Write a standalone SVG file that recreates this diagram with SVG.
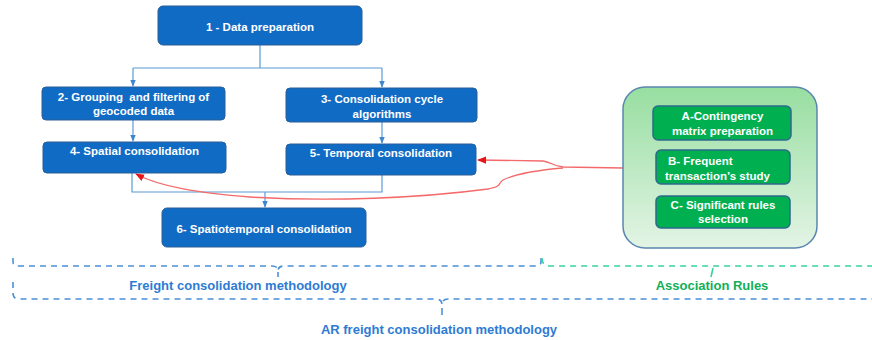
<svg xmlns="http://www.w3.org/2000/svg" width="872" height="340" viewBox="0 0 872 340">
<defs>
<linearGradient id="gbg" x1="0" y1="0" x2="0" y2="1">
<stop offset="0" stop-color="#97dea0"/>
<stop offset="1" stop-color="#e3f4e5"/>
</linearGradient>
<marker id="ab" viewBox="0 0 10 10" refX="9" refY="5" markerWidth="6" markerHeight="6" orient="auto">
<path d="M0,1 L10,5 L0,9 z" fill="#3f86cf"/>
</marker>
<marker id="ar" viewBox="0 0 10 10" refX="9" refY="5" markerWidth="7" markerHeight="7" orient="auto">
<path d="M0,1 L10,5 L0,9 z" fill="#e8141a"/>
</marker>
</defs>
<style>
.bx{fill:#106bc5;stroke:#2a5f98;stroke-width:1}
.gx{fill:#00b050;stroke:#2d6a8c;stroke-width:1.5}
.t{font-family:"Liberation Sans",Arial,sans-serif;font-weight:bold;font-size:11.5px;fill:#ffffff;text-anchor:middle}
.c{fill:none;stroke:#5b9bd5;stroke-width:1.2}
.r{fill:none;stroke:#f46a6a;stroke-width:1.3}
.db{fill:none;stroke:#4a90d9;stroke-width:1.6;stroke-dasharray:6 5}
.dg{fill:none;stroke:#34d39e;stroke-width:1.6;stroke-dasharray:6 5}
.lb{font-family:"Liberation Sans",Arial,sans-serif;font-weight:bold;font-size:13px;fill:#2e7bd3;text-anchor:middle}
.lg{font-family:"Liberation Sans",Arial,sans-serif;font-weight:bold;font-size:13px;fill:#10b057;text-anchor:middle}
</style>

<g id="connectors">
<path class="c" d="M260,45 V68 M133,68 H382"/>
<path class="c" d="M133,68 V86" marker-end="url(#ab)"/>
<path class="c" d="M382,68 V87" marker-end="url(#ab)"/>
<path class="c" d="M133,120 V141" marker-end="url(#ab)"/>
<path class="c" d="M382,122 V143" marker-end="url(#ab)"/>
<path class="c" d="M132,173 V192 H382 V175"/>
<path class="c" d="M265,192 V207" marker-end="url(#ab)"/>
<path class="c" stroke="#7aa6c2" d="M723,140 V150 M723,184 V196"/>
<path class="r" d="M623,168 L563,167 C553,166 551,162 543,161 L478,160" marker-end="url(#ar)"/>
<path class="r" d="M563,168 C540,170 515,174 503,180 C497,184 503,186 488,189 C420,198 330,202 250,197 C200,193 160,187 136,174" marker-end="url(#ar)"/>
</g>

<g id="n1">
<rect class="bx" x="158" y="6" width="204" height="39" rx="5"/>
<text class="t" x="260" y="31">1 - Data preparation</text>
</g>
<g id="n2">
<rect class="bx" x="42" y="87" width="183" height="33" rx="4"/>
<text class="t" x="133.5" y="101" xml:space="preserve">2- Grouping  and filtering of</text>
<text class="t" x="133.5" y="115">geocoded data</text>
</g>
<g id="n3">
<rect class="bx" x="286" y="88" width="191" height="34" rx="4"/>
<text class="t" x="382" y="103">3- Consolidation cycle</text>
<text class="t" x="382" y="118">algorithms</text>
</g>
<g id="n4">
<rect class="bx" x="43" y="142" width="183" height="31" rx="4"/>
<text class="t" x="134.5" y="155">4- Spatial consolidation</text>
</g>
<g id="n5">
<rect class="bx" x="286" y="144" width="190" height="31" rx="4"/>
<text class="t" x="381" y="157">5- Temporal consolidation</text>
</g>
<g id="n6">
<rect class="bx" x="162" y="208" width="204" height="39" rx="5"/>
<text class="t" x="264" y="233">6- Spatiotemporal consolidation</text>
</g>

<g id="ar-group">
<rect x="623" y="87" width="194" height="161" rx="22" fill="url(#gbg)" stroke="#5a86b0" stroke-width="1.5"/>
</g>
<g id="nA">
<rect class="gx" x="653" y="106" width="138" height="34" rx="5"/>
<text class="t" x="722.5" y="120">A-Contingency</text>
<text class="t" x="722.5" y="135">matrix preparation</text>
</g>
<g id="nB">
<rect class="gx" x="656" y="150" width="134" height="34" rx="5"/>
<text class="t" x="668" y="165" style="text-anchor:start">B- Frequent</text>
<text class="t" x="717.5" y="180">transaction’s study</text>
</g>
<g id="nC">
<rect class="gx" x="656" y="196" width="134" height="32" rx="5"/>
<text class="t" x="723" y="209">C- Significant rules</text>
<text class="t" x="723" y="223">selection</text>
</g>

<g id="braces">
<path class="db" d="M13,258 V262 Q13,266 19,266 H272 Q278,266 278,271 Q278,266 284,266 H535 Q541,266 541,262 V258"/>
<path fill="none" stroke="#4a90d9" stroke-width="1.6" d="M278,272 V277"/>
<path class="dg" d="M542,258 Q542,266 549,266 H872"/>
<path fill="none" stroke="#34d39e" stroke-width="1.6" d="M713,268 L711,277"/>
<path class="db" d="M13,282 V293 Q13,299 19,299 H436 Q442,299 442,305 Q442,299 448,299 H872"/>
<path fill="none" stroke="#4a90d9" stroke-width="1.6" d="M442,308 V315"/>
<text class="lb" x="238" y="290">Freight consolidation methodology</text>
<text class="lg" x="712" y="290">Association Rules</text>
<text class="lb" x="439" y="334">AR freight consolidation methodology</text>
</g>
</svg>
